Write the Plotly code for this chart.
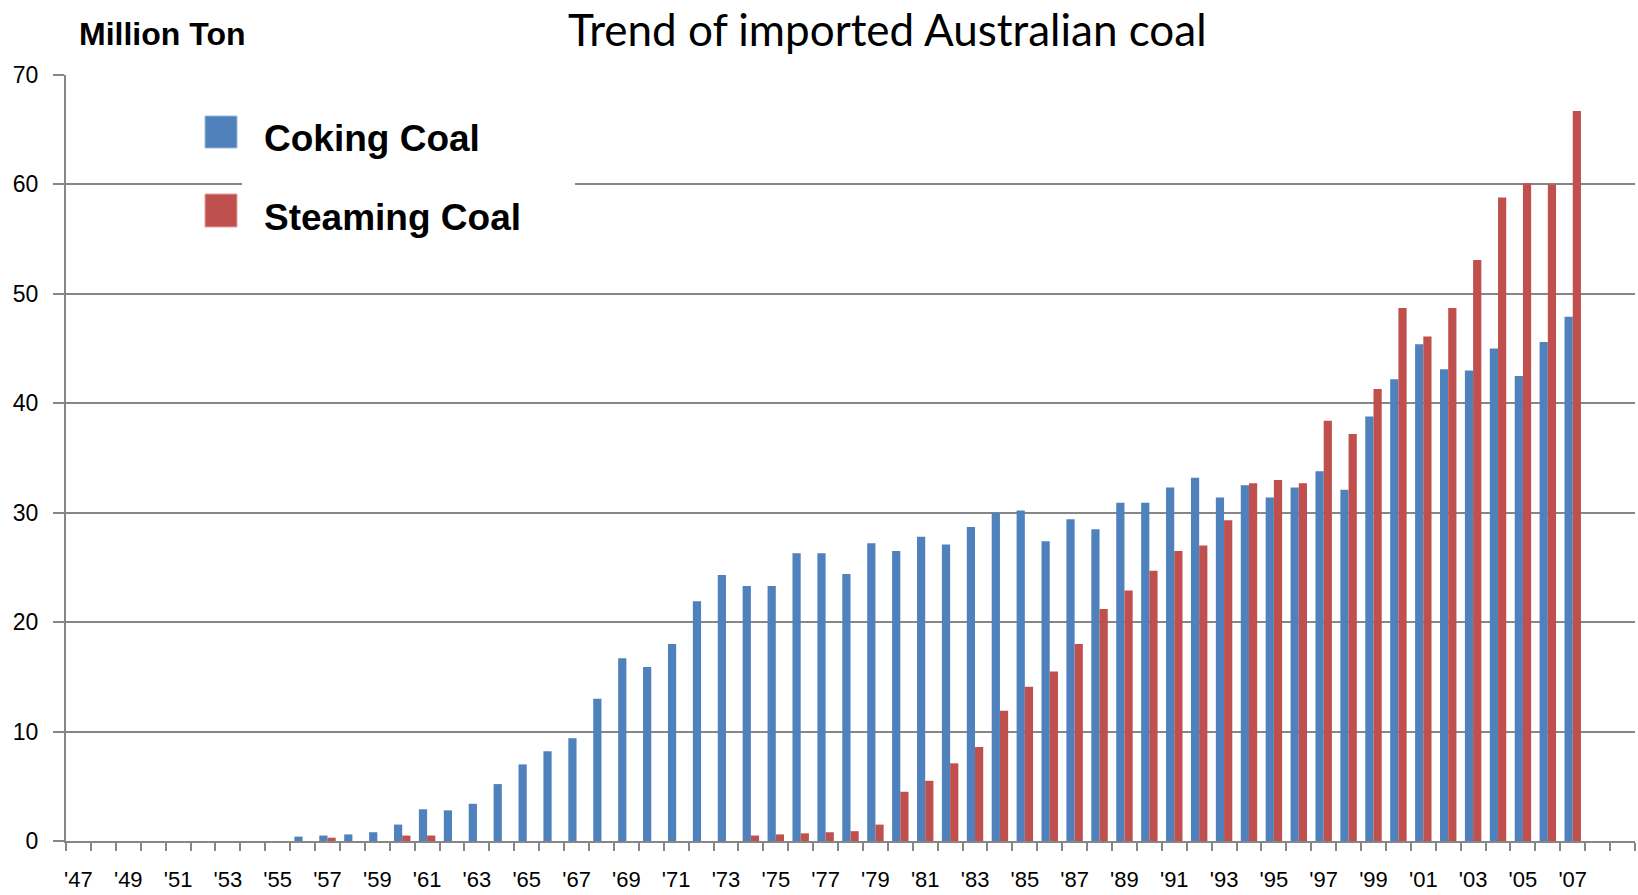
import plotly.graph_objects as go

# Categories (years) and tick labels
years = list(range(1947, 2010))
label_years = list(range(1947, 2008, 2))
tick_labels = ["'" + str(y)[2:] for y in label_years]

# Million tons (None = no bar)
coking = [
    None, None, None, None, None, None, None, None, None,   # 1947-1955
    0.4, 0.5, 0.6, 0.8, 1.5, 2.9, 2.8, 3.4, 5.2, 7.0,       # 1956-1965
    8.2, 9.4, 13.0, 16.7, 15.9, 18.0, 21.9, 24.3, 23.3, 23.3,  # 1966-1975
    26.3, 26.3, 24.4, 27.2, 26.5, 27.8, 27.1, 28.7, 30.0, 30.2,  # 1976-1985
    27.4, 29.4, 28.5, 30.9, 30.9, 32.3, 33.2, 31.4, 32.5, 31.4,  # 1986-1995
    32.3, 33.8, 32.1, 38.8, 42.2, 45.4, 43.1, 43.0, 45.0, 42.5,  # 1996-2005
    45.6, 47.9,                                                  # 2006-2007
    None, None,                                                  # 2008-2009
]
steaming = [
    None, None, None, None, None, None, None, None, None,   # 1947-1955
    None, 0.3, None, None, 0.5, 0.5, None, None, None, None,  # 1956-1965
    None, None, None, None, None, None, None, None, 0.5, 0.6,  # 1966-1975
    0.7, 0.8, 0.9, 1.5, 4.5, 5.5, 7.1, 8.6, 11.9, 14.1,      # 1976-1985
    15.5, 18.0, 21.2, 22.9, 24.7, 26.5, 27.0, 29.3, 32.7, 33.0,  # 1986-1995
    32.7, 38.4, 37.2, 41.3, 48.7, 46.1, 48.7, 53.1, 58.8, 60.1,  # 1996-2005
    60.0, 66.7,                                                  # 2006-2007
    None, None,                                                  # 2008-2009
]

BLUE = "#4F81BD"
RED = "#C0504D"
GRID = "#868686"

fig = go.Figure()
fig.add_trace(go.Bar(x=years, y=coking, name="Coking Coal",
                     marker=dict(color=BLUE, line=dict(width=0))))
fig.add_trace(go.Bar(x=years, y=steaming, name="Steaming Coal",
                     marker=dict(color=RED, line=dict(width=0))))

L, R, T, B = 66, 3, 75, 54
W, H = 1638, 895
pw = W - L - R
ph = H - T - B


def px_x(px):
    return (px - L) / pw


def px_y(py):
    return (H - B - py) / ph


fig.update_layout(
    width=W, height=H,
    margin=dict(l=L, r=R, t=T, b=B, pad=0, autoexpand=False),
    paper_bgcolor="white", plot_bgcolor="white",
    barmode="group", bargap=0.34, bargroupgap=0,
    showlegend=False,
    font=dict(family="Liberation Sans, Arial, sans-serif", color="black"),
)

fig.update_xaxes(
    range=[1946.5, 2009.5], automargin=False,
    tickmode="array", tickvals=label_years, ticktext=tick_labels,
    ticks="", ticklabelstandoff=18,
    tickfont=dict(family="Liberation Sans, Arial", size=22, color="black"),
    showgrid=False, zeroline=False,
    showline=True, linecolor=GRID, linewidth=2,
    minor=dict(tickmode="linear", tick0=1946.5, dtick=1, ticks="outside",
               ticklen=8, tickwidth=2, tickcolor=GRID, showgrid=False),
)
fig.update_yaxes(
    range=[0, 70], tickmode="linear", tick0=0, dtick=10, automargin=False,
    showgrid=True, gridcolor=GRID, gridwidth=1.8,
    zeroline=False,
    showline=True, linecolor=GRID, linewidth=2,
    ticks="outside", ticklen=11, tickwidth=1.8, tickcolor=GRID,
    ticklabelstandoff=10,
    tickfont=dict(family="Liberation Sans, Arial", size=23, color="black"),
)

shapes = [
    # white patch behind legend text (interrupts the 60 gridline)
    dict(type="rect", xref="paper", yref="y", x0=px_x(242), x1=px_x(575),
         y0=59.2, y1=60.8, fillcolor="white", line=dict(width=0), layer="above"),
    # legend swatches
    dict(type="rect", xref="paper", yref="paper", x0=px_x(205), x1=px_x(237),
         y0=px_y(148), y1=px_y(116), fillcolor=BLUE,
         line=dict(color="#9fb9dc", width=1), layer="above"),
    dict(type="rect", xref="paper", yref="paper", x0=px_x(205), x1=px_x(237),
         y0=px_y(227), y1=px_y(194), fillcolor=RED,
         line=dict(color="#e0a3a1", width=1), layer="above"),
]
fig.update_layout(shapes=shapes)

annotations = [
    dict(text="Trend of imported Australian coal", xref="paper", yref="paper",
         x=px_x(887), y=px_y(29), xanchor="center", yanchor="middle",
         showarrow=False, font=dict(family="Lato, Open Sans, sans-serif", size=44, color="black")),
    dict(text="<b>Million Ton</b>", xref="paper", yref="paper",
         x=px_x(77), y=px_y(34), xanchor="left", yanchor="middle",
         showarrow=False, font=dict(family="Liberation Sans, Arial", size=32, color="black")),
    dict(text="<b>Coking Coal</b>", xref="paper", yref="paper",
         x=px_x(262), y=px_y(138), xanchor="left", yanchor="middle",
         showarrow=False, font=dict(family="Liberation Sans, Arial", size=37, color="black")),
    dict(text="<b>Steaming Coal</b>", xref="paper", yref="paper",
         x=px_x(262), y=px_y(217), xanchor="left", yanchor="middle",
         showarrow=False, font=dict(family="Liberation Sans, Arial", size=37, color="black")),
]
fig.update_layout(annotations=annotations)

fig.write_html("out.html",
               config={"displayModeBar": False},
               post_script="document.body.style.margin='0';document.body.style.overflow='hidden';")
